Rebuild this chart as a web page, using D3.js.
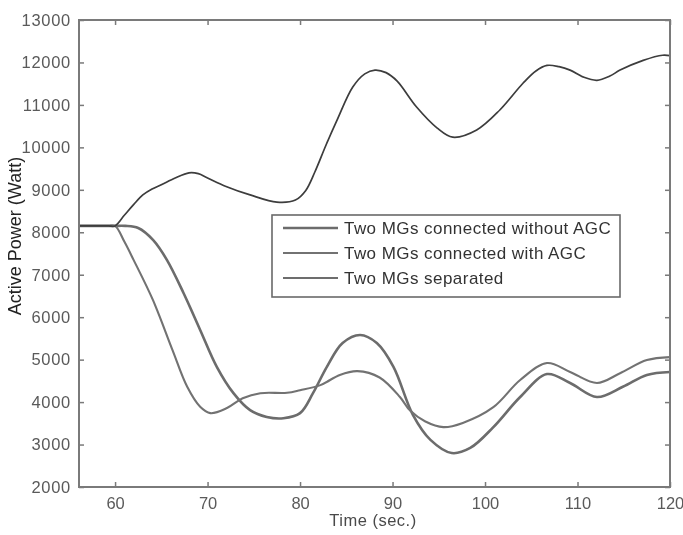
<!doctype html>
<html>
  <head>
    <script src="https://cdnjs.cloudflare.com/ajax/libs/d3/7.8.5/d3.min.js"></script>
    <style>
      body { margin: 0; background: #fff; }
      svg { font-family: "Liberation Sans", Arial, sans-serif; }
      .frame { fill: none; stroke: #7a7a7a; stroke-width: 2; }
      .tick line { stroke: #7a7a7a; stroke-width: 1.5; }
      .tick text { fill: #5a5a5a; font-size: 16.5px; letter-spacing: 0.7px; }
      .xaxis .tick text { letter-spacing: 0; }
      .domain { display: none; }
      .series { fill: none; }
      .legend-box { fill: #fff; stroke: #6a6a6a; stroke-width: 1.6; }
      .legend text { fill: #333; font-size: 17px; letter-spacing: 0.45px; }
    </style>
  </head>
  <body>
    <svg width="683" height="535"></svg>
    <script>
      // values
      var xTicks = [60, 70, 80, 90, 100, 110, 120];
      var yTicks = [2000, 3000, 4000, 5000, 6000, 7000, 8000, 9000, 10000, 11000, 12000, 13000];

      var tSep = [56, 58, 59.3, 60, 61, 62, 63, 64, 65, 66.5, 68, 69, 70, 72, 74.6, 77.5, 79.5, 80.6, 81.6, 82.8, 84, 85.7, 87, 88.1, 89.3, 90.5, 92.6, 94.8, 96.5, 99.1, 101.6, 104.1, 105.5, 106.7, 108, 109.2, 110.7, 112.1, 113.5, 114.6, 117.1, 119.2, 120];
      var pSep = [8150, 8150, 8150, 8150, 8400, 8650, 8880, 9020, 9120, 9280, 9400, 9380, 9280, 9080, 8880, 8710, 8760, 8980, 9420, 10050, 10640, 11420, 11730, 11820, 11760, 11560, 10950, 10460, 10240, 10410, 10880, 11510, 11800, 11930, 11900, 11820, 11650, 11580, 11680, 11820, 12050, 12170, 12160];

      var tWith = [56, 58, 59.3, 60, 61, 62, 64.1, 66.2, 67.8, 69.2, 70.3, 72.1, 73.8, 75.7, 78.6, 80, 82.2, 84.3, 86.2, 88.6, 90.8, 91.9, 93.5, 95.5, 97.6, 100.9, 103.8, 106.7, 109.2, 112.1, 114.6, 117.5, 120];
      var pWith = [8150, 8150, 8150, 8150, 7780, 7350, 6400, 5230, 4360, 3890, 3740, 3860, 4090, 4210, 4220, 4280, 4400, 4640, 4730, 4580, 4120, 3800, 3550, 3410, 3510, 3880, 4520, 4920, 4710, 4450, 4680, 4990, 5060];

      var tWithout = [56, 58, 59.3, 60, 61.1, 62.5, 64.1, 65.6, 67.4, 69.2, 71, 72.8, 74.6, 76.4, 78.2, 80, 81.4, 82.9, 84.6, 86.5, 88.3, 90.1, 92.2, 94.1, 96.4, 98.4, 100.9, 103.8, 106.7, 109.2, 112.1, 114.9, 117.5, 120];
      var pWithout = [8150, 8150, 8150, 8150, 8150, 8100, 7820, 7350, 6570, 5700, 4830, 4210, 3810, 3650, 3620, 3740, 4210, 4830, 5390, 5580, 5390, 4830, 3700, 3110, 2800, 2920, 3410, 4120, 4660, 4450, 4120, 4360, 4640, 4710];

      var seriesNames = ["Two MGs connected without AGC", "Two MGs connected with AGC", "Two MGs separated"];
      var seriesColors = ["#6c6c6c", "#727272", "#3c3c3c"];
      var seriesWidths = [2.6, 2.1, 1.7];

      var series = [
        { name: seriesNames[0], t: tWithout, p: pWithout },
        { name: seriesNames[1], t: tWith, p: pWith },
        { name: seriesNames[2], t: tSep, p: pSep }
      ];

      var svg = d3.select("svg");
      var m = { left: 79, top: 20, right: 670, bottom: 487 };

      // the source image is soft, blur everything a little
      svg.append("defs").append("filter").attr("id", "soft")
        .append("feGaussianBlur").attr("stdDeviation", 0.45);
      var root = svg.append("g").attr("filter", "url(#soft)");

      var x = d3.scaleLinear().domain([56.1, 120]).range([m.left, m.right]);
      var y = d3.scaleLinear().domain([2000, 13000]).range([m.bottom, m.top]);

      var line = d3.line()
        .x(function(d) { return x(d[0]); })
        .y(function(d) { return y(d[1]); })
        .curve(d3.curveCatmullRom.alpha(0.5));

      var plot = root.append("g");
      series.forEach(function(s, i) {
        plot.append("path")
          .attr("class", "series")
          .attr("d", line(d3.zip(s.t, s.p)))
          .attr("stroke", seriesColors[i])
          .attr("stroke-width", seriesWidths[i]);
      });

      // axes: ticks point inward on all four sides
      root.append("g")
        .attr("class", "xaxis")
        .attr("transform", "translate(0," + m.bottom + ")")
        .call(d3.axisBottom(x).tickValues(xTicks).tickSize(-5).tickPadding(10).tickFormat(d3.format("d")));
      root.append("g")
        .attr("transform", "translate(0," + m.top + ")")
        .call(d3.axisTop(x).tickValues(xTicks).tickSize(-5).tickFormat(""));
      root.append("g")
        .attr("transform", "translate(" + m.left + ",0)")
        .call(d3.axisLeft(y).tickValues(yTicks).tickSize(-5).tickPadding(8).tickFormat(d3.format("d")));
      root.append("g")
        .attr("transform", "translate(" + m.right + ",0)")
        .call(d3.axisRight(y).tickValues(yTicks).tickSize(-5).tickFormat(""));

      root.append("rect")
        .attr("class", "frame")
        .attr("x", m.left).attr("y", m.top)
        .attr("width", m.right - m.left).attr("height", m.bottom - m.top);

      root.append("text")
        .attr("x", 373).attr("y", 526)
        .attr("text-anchor", "middle")
        .attr("fill", "#4a4a4a")
        .style("font-size", "16.5px")
        .style("letter-spacing", "0.5px")
        .text("Time (sec.)");

      root.append("text")
        .attr("transform", "translate(21,236) rotate(-90)")
        .attr("text-anchor", "middle")
        .attr("fill", "#222")
        .style("font-size", "18px")
        .text("Active Power (Watt)");

      // legend
      var lg = root.append("g").attr("class", "legend");
      lg.append("rect").attr("class", "legend-box")
        .attr("x", 272).attr("y", 215).attr("width", 348).attr("height", 82);
      series.forEach(function(s, i) {
        var yy = 228 + i * 25;
        lg.append("line")
          .attr("x1", 283).attr("x2", 338).attr("y1", yy).attr("y2", yy)
          .attr("stroke", seriesColors[i]).attr("stroke-width", seriesWidths[i]);
        lg.append("text")
          .attr("x", 344).attr("y", yy + 6)
          .text(s.name);
      });
    </script>
  </body>
</html>
